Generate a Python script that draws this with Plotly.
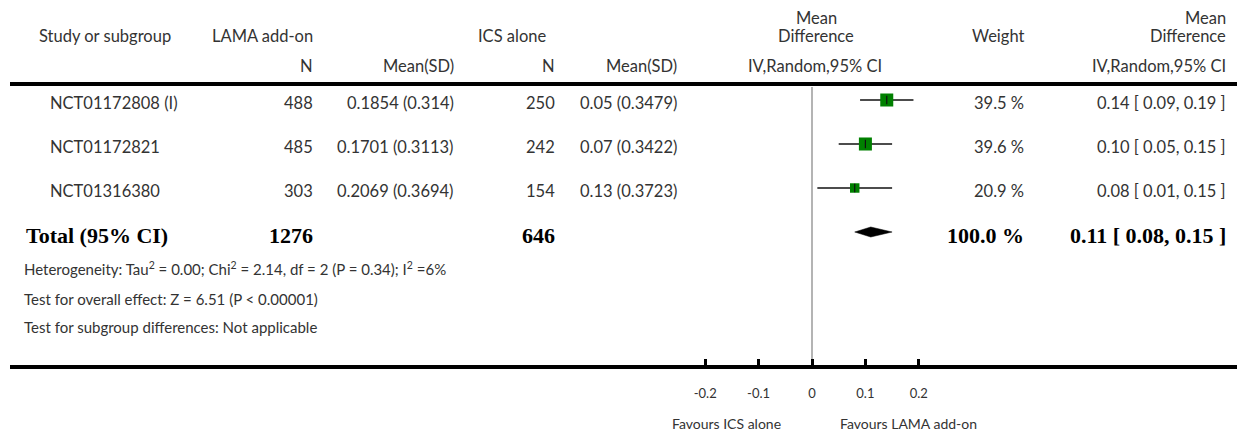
import math
import plotly.graph_objects as go

# ---- data ----
studies = ["NCT01172808 (I)", "NCT01172821", "NCT01316380"]
lama_n = [488, 485, 303]
lama_mean = [0.1854, 0.1701, 0.2069]
lama_sd = [0.314, 0.3113, 0.3694]
ics_n = [250, 242, 154]
ics_mean = [0.05, 0.07, 0.13]
ics_sd = [0.3479, 0.3422, 0.3723]
md = [0.14, 0.10, 0.08]
md_lo = [0.09, 0.05, 0.01]
md_hi = [0.19, 0.15, 0.15]
weights = [39.5, 39.6, 20.9]

total_label = "Total (95% CI)"
total_lama_n = 1276
total_ics_n = 646
total_md = 0.11
total_lo = 0.08
total_hi = 0.15
total_weight = 100.0

heterogeneity = "Heterogeneity: Tau<sup>2</sup> = 0.00; Chi<sup>2</sup> = 2.14, df = 2 (P = 0.34); I<sup>2</sup> =6%"
overall_effect = "Test for overall effect: Z = 6.51 (P < 0.00001)"
subgroup_diff = "Test for subgroup differences: Not applicable"

tick_vals = [-0.2, -0.1, 0, 0.1, 0.2]
tick_text = ["-0.2", "-0.1", "0", "0.1", "0.2"]
favours_left = "Favours ICS alone"
favours_right = "Favours LAMA add-on"

# ---- geometry ----
W, H = 1239, 435
ML, MR, MT, MB = 10, 2, 0, 70
PW = W - ML - MR
PH = H - MT - MB
X0_PX = 812          # pixel position of zero effect
PX_PER_UNIT = 534    # pixels per unit of mean difference
ROW0_PX = 100        # first study row
ROW_STEP = 44
TXT_DY = 3 / ROW_STEP  # text sits a little below the marker line

x_range = [-(X0_PX - ML) / PX_PER_UNIT, (W - MR - X0_PX) / PX_PER_UNIT]
y_range = [(PH - ROW0_PX) / ROW_STEP, (0 - ROW0_PX) / ROW_STEP]


def xp(px):
    return (px - ML) / PW


def yp(px):
    return 1 - (px - MT) / PH


FONT = "Lato, 'Open Sans', sans-serif"
SERIF = "'Liberation Serif', 'DejaVu Serif', serif"
TXT = "#333333"
FS_HEAD = 16.5
FS_NUM = 16.5
FS_NOTE = 15
BS = 22

fig = go.Figure()

rows = list(range(len(studies)))

# confidence interval whiskers
ci_x, ci_y = [], []
for r, lo, hi in zip(rows, md_lo, md_hi):
    ci_x += [lo, hi, None]
    ci_y += [r, r, None]
fig.add_trace(go.Scatter(x=ci_x, y=ci_y, mode="lines",
                         line=dict(color="#111111", width=1.5),
                         hoverinfo="skip", showlegend=False))

# weighted squares
fig.add_trace(go.Scatter(
    x=md, y=rows, mode="markers",
    marker=dict(symbol="square", color="#008000", opacity=1,
                size=[13 * math.sqrt(w / 39.5) for w in weights],
                line=dict(width=0)),
    showlegend=False))

# point-estimate ticks
fig.add_trace(go.Scatter(
    x=md, y=rows, mode="markers",
    marker=dict(symbol="line-ns", size=6, opacity=1,
                line=dict(color="#111111", width=1.2)),
    hoverinfo="skip", showlegend=False))

# pooled diamond
ty = len(studies)
dh = 5 / ROW_STEP
fig.add_trace(go.Scatter(
    x=[total_lo, total_md, total_hi, total_md, total_lo],
    y=[ty, ty - dh, ty, ty + dh, ty],
    mode="lines", fill="toself", fillcolor="#000000",
    line=dict(color="#000000", width=0.5),
    hoverinfo="skip", showlegend=False))

ann = []


def text(s, x_px, y, anchor="right", yref="paper", size=FS_HEAD, family=FONT, color=TXT):
    ann.append(dict(text=s, x=xp(x_px), xref="paper", y=y, yref=yref,
                    xanchor=anchor, yanchor="middle", showarrow=False,
                    font=dict(family=family, size=size, color=color)))


# header
text("Study or subgroup", 37, yp(36), "left")
text("LAMA add-on", 315, yp(36))
text("N", 315, yp(66))
text("Mean(SD)", 456, yp(66))
text("ICS alone", 548, yp(36))
text("N", 557, yp(66))
text("Mean(SD)", 679, yp(66))
text("Mean", 816, yp(18), "center")
text("Difference", 816, yp(36), "center")
text("IV,Random,95% CI", 815, yp(66), "center")
text("Weight", 1026, yp(36))
text("Mean", 1228, yp(18))
text("Difference", 1228, yp(36))
text("IV,Random,95% CI", 1228, yp(66))

# study rows
for r in rows:
    ry = r + TXT_DY
    text(studies[r], 48, ry, "left", yref="y")
    text(str(lama_n[r]), 315, ry, yref="y", size=FS_NUM)
    text(f"{lama_mean[r]} ({lama_sd[r]})", 456, ry, yref="y", size=FS_NUM)
    text(str(ics_n[r]), 557, ry, yref="y", size=FS_NUM)
    text(f"{ics_mean[r]} ({ics_sd[r]})", 679, ry, yref="y", size=FS_NUM)
    text(f"{weights[r]:.1f} %", 1026, ry, yref="y", size=FS_NUM)
    text(f"{md[r]:.2f} [ {md_lo[r]:.2f}, {md_hi[r]:.2f} ]", 1228, ry, yref="y", size=FS_NUM)

# total row
tty = ty + TXT_DY
text(f"<b>{total_label}</b>", 24, tty, "left", yref="y", size=BS, family=SERIF, color="#000")
text(f"<b>{total_lama_n}</b>", 315, tty, yref="y", size=BS, family=SERIF, color="#000")
text(f"<b>{total_ics_n}</b>", 557, tty, yref="y", size=BS, family=SERIF, color="#000")
text(f"<b>{total_weight:.1f} %</b>", 1026, tty, yref="y", size=BS, family=SERIF, color="#000")
text(f"<b>{total_md:.2f} [ {total_lo:.2f}, {total_hi:.2f} ]</b>", 1228, tty, yref="y",
     size=BS, family=SERIF, color="#000")

# footnotes
text(heterogeneity, 22, yp(268), "left", size=FS_NOTE)
text(overall_effect, 22, yp(299), "left", size=FS_NOTE)
text(subgroup_diff, 22, yp(327), "left", size=FS_NOTE)

# favours labels
for s, xa, off in [(favours_left, "right", -29), (favours_right, "left", 26)]:
    ann.append(dict(text=s, x=off / PX_PER_UNIT, xref="x", y=yp(423), yref="paper",
                    xanchor=xa, yanchor="middle", showarrow=False,
                    font=dict(family=FONT, size=14, color=TXT)))

shapes = [
    dict(type="line", xref="paper", yref="paper", x0=0, x1=1, y0=yp(84), y1=yp(84),
         line=dict(color="#000000", width=4)),
    dict(type="line", xref="x", yref="paper", x0=0, x1=0, y0=yp(87), y1=0,
         line=dict(color="#b4b4b4", width=2), layer="below"),
]

fig.update_layout(
    width=W, height=H,
    margin=dict(l=ML, r=MR, t=MT, b=MB, pad=0),
    paper_bgcolor="white", plot_bgcolor="white",
    showlegend=False,
    annotations=ann, shapes=shapes,
    xaxis=dict(range=x_range, showgrid=False, zeroline=False,
               showline=True, linecolor="#000000", linewidth=4,
               ticks="inside", ticklen=6, tickwidth=3, tickcolor="#000000",
               tickvals=tick_vals, ticktext=tick_text,
               ticklabelstandoff=13,
               tickfont=dict(family=FONT, size=13, color=TXT),
               fixedrange=True),
    yaxis=dict(range=y_range, visible=False, fixedrange=True),
)

fig.write_html("out.html")
